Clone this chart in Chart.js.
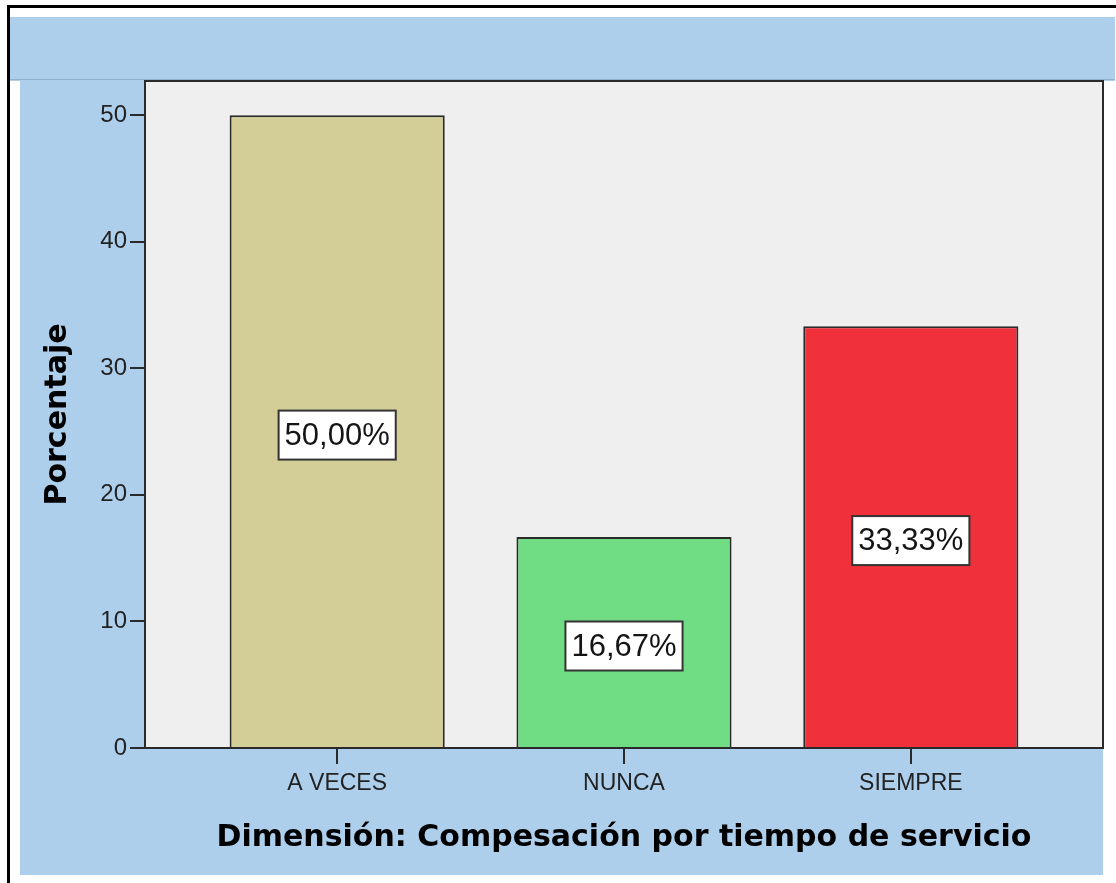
<!DOCTYPE html>
<html>
<head>
<meta charset="utf-8">
<title>Dimensión: Compesación por tiempo de servicio</title>
<script src="https://cdn.jsdelivr.net/npm/chart.js@4.4.0/dist/chart.umd.min.js"></script>
<style>
  html, body { margin: 0; padding: 0; background: #fff; }
  #wrap { position: relative; width: 1116px; height: 883px; }
</style>
</head>
<body>
<div id="wrap"><canvas id="grafico"></canvas></div>
<script>
const categorias = ['A VECES', 'NUNCA', 'SIEMPRE'];
const porcentajes = [50.00, 16.67, 33.33];
const colores = ['#d3cd97', '#70dc83', '#f0313b'];
const ticksY = [0, 10, 20, 30, 40, 50];

const azul = '#aecfec';
const oscuro = '#2a2a2a';

// fondo: marco negro, bandas azules y area gris del grafico
const marco = {
  id: 'marco',
  beforeDraw(chart) {
    const { ctx, chartArea: a, width, height } = chart;
    ctx.save();
    ctx.fillStyle = '#ffffff';
    ctx.fillRect(0, 0, width, height);
    ctx.fillStyle = azul;
    ctx.fillRect(9, 17, width - 10, a.top - 17);
    ctx.fillRect(20, a.top - 1, a.right - 20, a.bottom + 128 - a.top);
    ctx.fillStyle = 'rgba(90,120,150,0.35)';
    ctx.fillRect(9, a.top - 2, width - 10, 1);
    ctx.fillStyle = '#efefef';
    ctx.fillRect(a.left, a.top, a.right - a.left, a.bottom - a.top);
    ctx.strokeStyle = oscuro;
    ctx.lineWidth = 2;
    ctx.beginPath();
    ctx.moveTo(a.left, a.top);
    ctx.lineTo(a.right, a.top);
    ctx.lineTo(a.right, a.bottom);
    ctx.stroke();
    ctx.fillStyle = '#000';
    ctx.fillRect(7, 5, width - 7, 3);
    ctx.fillRect(7, 5, 3, height - 5);
    ctx.restore();
  }
};

// etiquetas de porcentaje en recuadro blanco al centro de cada barra
const etiquetas = {
  id: 'etiquetas',
  afterDatasetsDraw(chart) {
    const { ctx } = chart;
    const meta = chart.getDatasetMeta(0);
    ctx.save();
    ctx.font = '31px "Liberation Sans", Arial, sans-serif';
    ctx.textAlign = 'center';
    ctx.textBaseline = 'middle';
    meta.data.forEach((bar, i) => {
      const txt = porcentajes[i].toFixed(2).replace('.', ',') + '%';
      const cy = (bar.y + bar.base) / 2 + 4;
      const w = ctx.measureText(txt).width + 12;
      const h = 49;
      ctx.fillStyle = '#ffffff';
      ctx.fillRect(bar.x - w / 2, cy - h / 2, w, h);
      ctx.strokeStyle = '#333';
      ctx.lineWidth = 2;
      ctx.strokeRect(bar.x - w / 2, cy - h / 2, w, h);
      ctx.fillStyle = '#151515';
      ctx.fillText(txt, bar.x, cy + 1);
    });
    ctx.restore();
  }
};

const ctx = document.getElementById('grafico').getContext('2d');
const grafico = new Chart(ctx, {
  type: 'bar',
  data: {
    datasets: [{
      data: categorias.map((c, i) => ({ x: i, y: porcentajes[i] })),
      backgroundColor: colores,
      borderColor: oscuro,
      borderWidth: 2,
      barPercentage: 0.75,
      categoryPercentage: 1.0
    }]
  },
  options: {
    responsive: true,
    maintainAspectRatio: false,
    devicePixelRatio: 1,
    animation: false,
    layout: { padding: { left: 0, top: 81, right: 13, bottom: 0 } },
    plugins: {
      legend: { display: false },
      tooltip: { enabled: false }
    },
    scales: {
      x: {
        type: 'linear',
        min: -0.67,
        max: 2.67,
        offset: false,
        bounds: 'data',
        afterBuildTicks: s => { s.ticks = categorias.map((c, i) => ({ value: i })); },
        afterFit: s => { s.height = 135; },
        grid: { drawOnChartArea: false, offset: false, color: oscuro, lineWidth: 2, tickLength: 16 },
        border: { color: oscuro, width: 2 },
        ticks: {
          autoSkip: false,
          maxRotation: 0,
          padding: 6,
          color: '#222',
          font: { family: '"Liberation Sans", Arial, sans-serif', size: 23 },
          callback: v => categorias[v]
        },
        title: {
          display: true,
          text: 'Dimensión: Compesación por tiempo de servicio',
          color: '#000',
          font: { family: '"DejaVu Sans", sans-serif', size: 30, weight: 'bold' },
          padding: { top: 0, bottom: 27 }
        }
      },
      y: {
        min: 0,
        max: 52.7,
        afterBuildTicks: s => { s.ticks = ticksY.map(v => ({ value: v })); },
        afterFit: s => { s.width = 145; },
        grid: { drawOnChartArea: false, color: oscuro, lineWidth: 2, tickLength: 15 },
        border: { color: oscuro, width: 2 },
        ticks: {
          padding: 3,
          color: '#222',
          font: { family: '"Liberation Sans", Arial, sans-serif', size: 24 }
        },
        title: {
          display: true,
          text: 'Porcentaje',
          color: '#000',
          font: { family: '"DejaVu Sans", sans-serif', size: 30, weight: 'bold' },
          padding: { top: 40, bottom: 0 }
        }
      }
    }
  },
  plugins: [marco, etiquetas]
});
</script>
</body>
</html>
